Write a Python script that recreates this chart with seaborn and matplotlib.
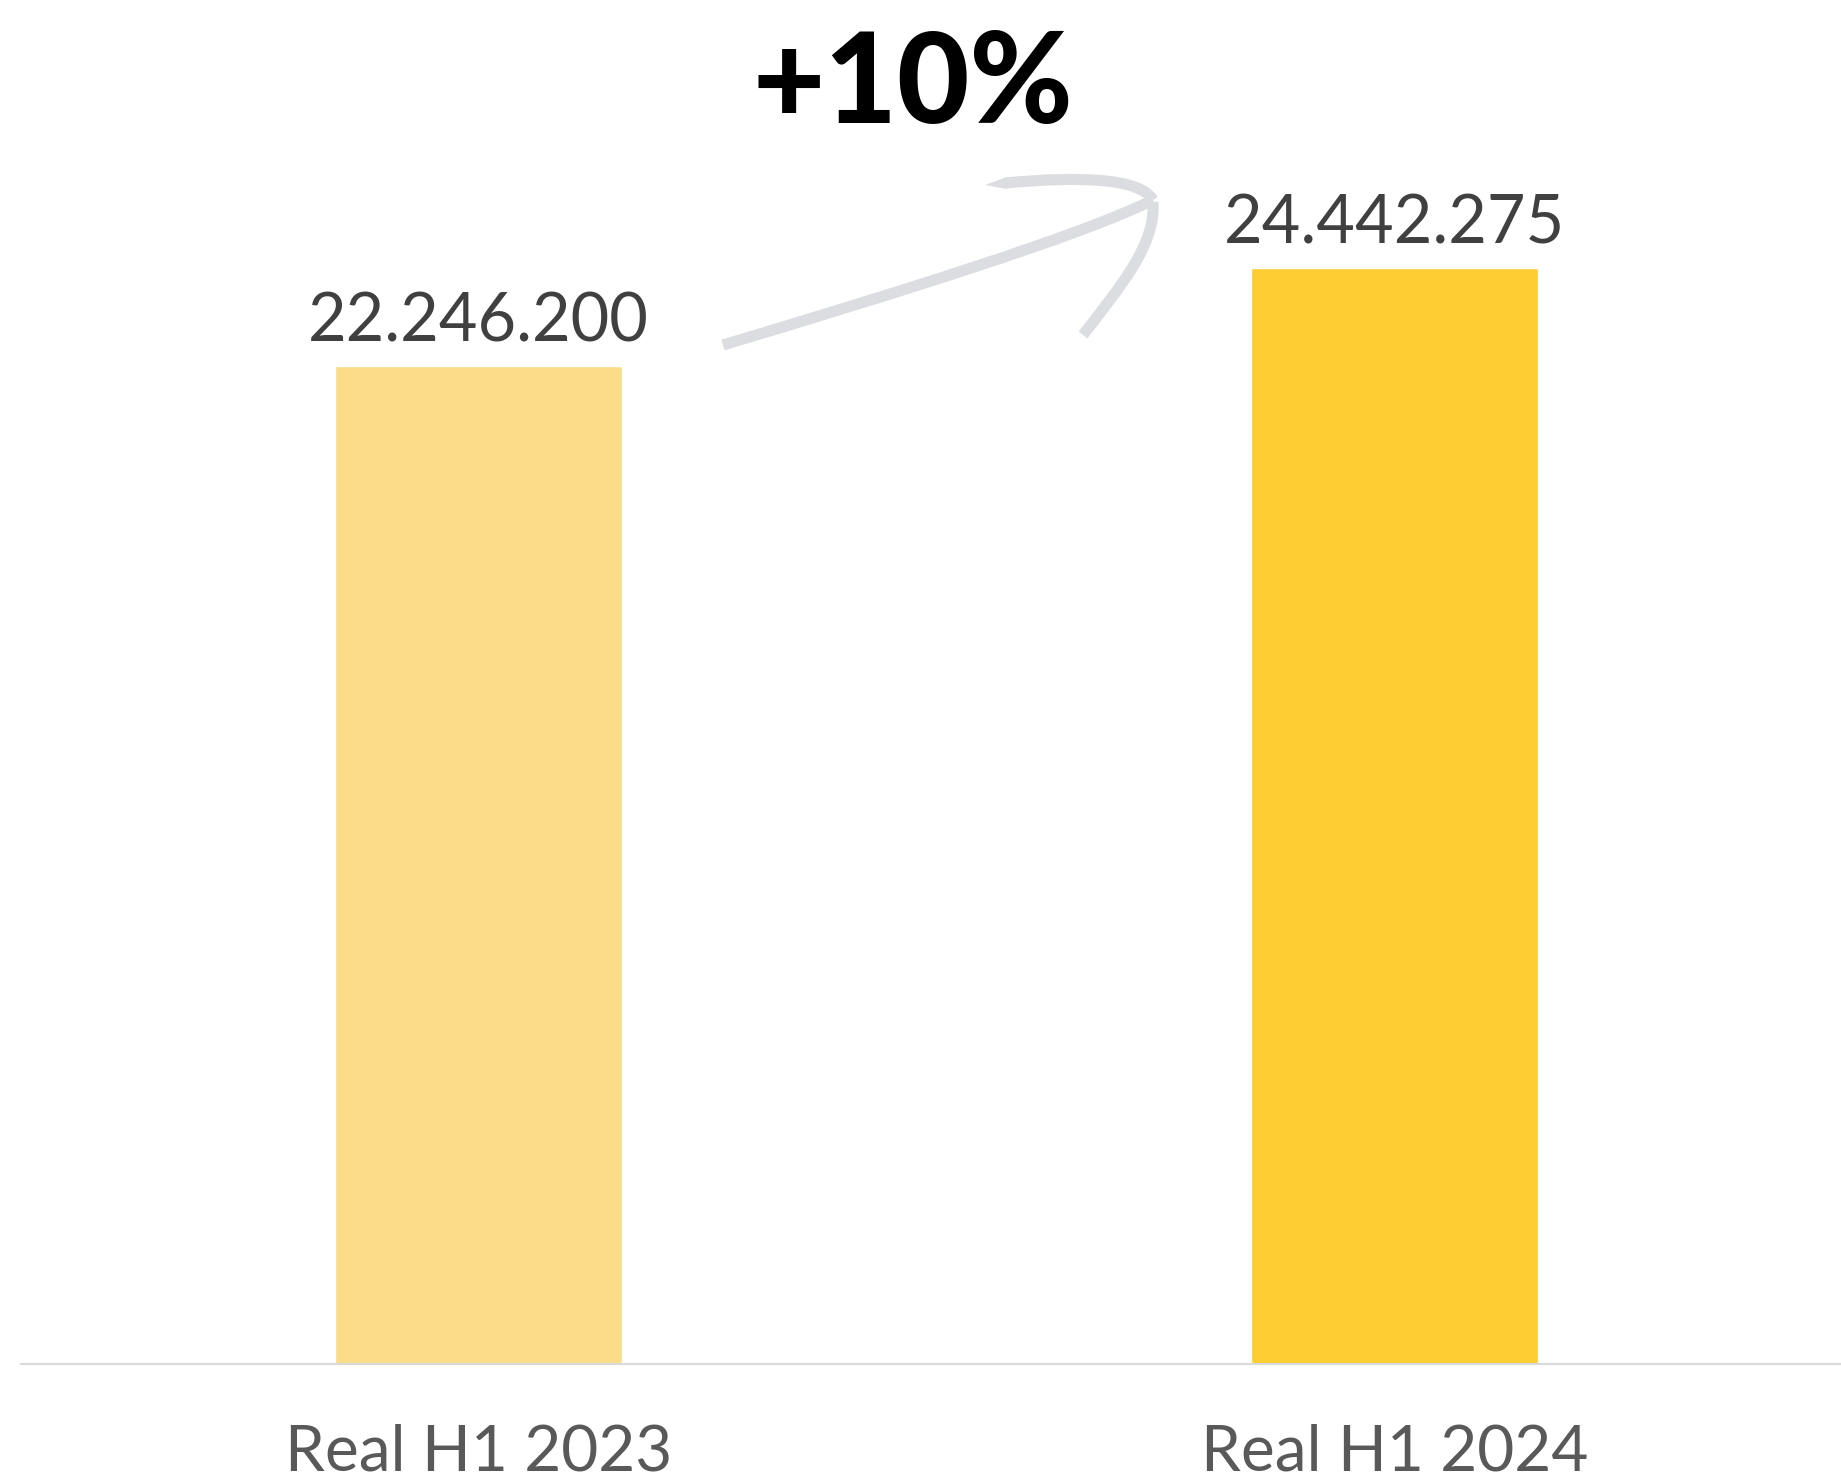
import matplotlib
matplotlib.use('Agg')
import matplotlib.pyplot as plt
from matplotlib.path import Path
from matplotlib.patches import PathPatch
import seaborn as sns
import pandas as pd

# Data
categories = ['Real H1 2023', 'Real H1 2024']
values = [22246200, 24442275]
value_labels = ['22.246.200', '24.442.275']
growth_label = '+10%'
bar_colors = ['#FBDC88', '#FECD31']

sns.set_theme(style='white')
plt.rcParams['font.family'] = ['Lato', 'DejaVu Sans']

df = pd.DataFrame({'period': categories, 'value': values})

W, H = 1841, 1480
fig = plt.figure(figsize=(W / 100, H / 100), dpi=100)
ax = fig.add_axes([21 / W, 116 / H, 1 - 21 / W, 1 - 116 / H])

sns.barplot(data=df, x='period', y='value', hue='period', palette=bar_colors,
            width=0.3135, legend=False, ax=ax, saturation=1)

ax.set_xlim(-0.5, 1.488)
ax.set_ylim(0, values[1] * 1364 / 1096)

for i, (v, lab) in enumerate(zip(values, value_labels)):
    ax.annotate(lab, xy=(i, v), xytext=(0, 18), textcoords='offset points',
                ha='center', va='baseline', fontsize=48, fontweight='normal',
                color='#404040')

ax.set_xlabel('')
ax.set_ylabel('')
ax.set_yticks([])
ax.tick_params(axis='x', length=0, pad=43, labelsize=46, labelcolor='#595959')
for s in ['top', 'left', 'right']:
    ax.spines[s].set_visible(False)
ax.spines['bottom'].set_color('#D9D9D9')
ax.spines['bottom'].set_linewidth(1.5)

# overlay in pixel coordinates for the hand-drawn growth arrow
ov = fig.add_axes([0, 0, 1, 1], facecolor='none')
ov.set_xlim(0, W)
ov.set_ylim(H, 0)
ov.axis('off')

arrow_color = '#DCDDE1'
lw = 8
curves = [
    [(723, 345), (900, 292), (1080, 236), (1153, 200)],   # shaft
    [(1153, 200), (1140, 178), (1080, 176), (1005, 183)],  # upper barb
    [(1153, 202), (1156, 245), (1120, 287), (1083, 335)],  # lower barb
]
for pts in curves:
    path = Path(pts, [Path.MOVETO, Path.CURVE4, Path.CURVE4, Path.CURVE4])
    ov.add_patch(PathPatch(path, facecolor='none', edgecolor=arrow_color,
                           lw=lw, capstyle='butt'))
ov.fill([1007, 985, 1007], [177, 185, 189], color=arrow_color, lw=0)

ov.text(913, 123, growth_label, ha='center', va='baseline', fontsize=90,
        fontweight='black', color='#000000')

fig.savefig('out.png', dpi=100)
